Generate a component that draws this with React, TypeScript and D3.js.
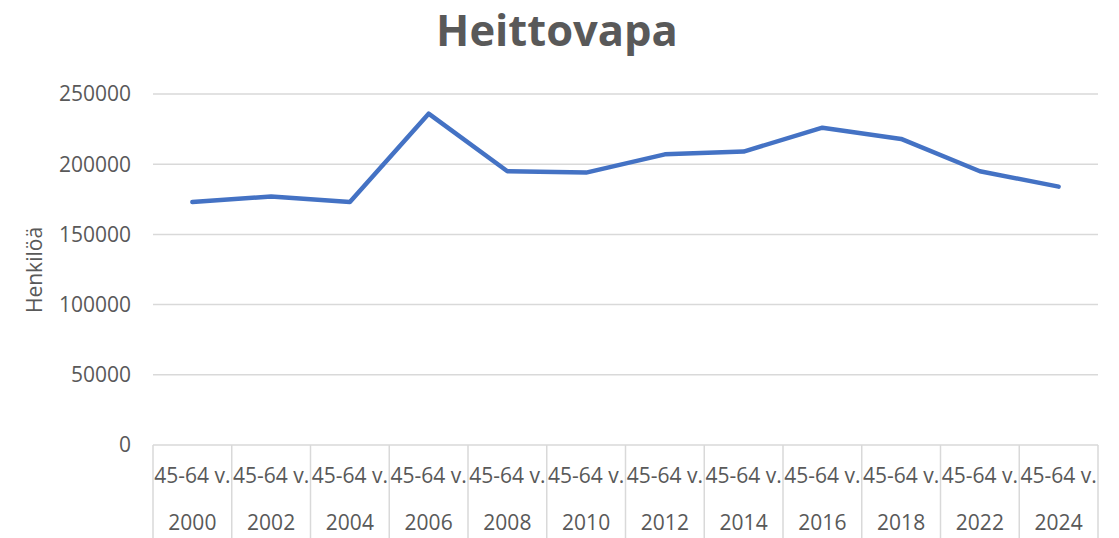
import React, { useEffect, useRef } from "react";
import * as d3 from "d3";

const years = ["2000", "2002", "2004", "2006", "2008", "2010", "2012", "2014", "2016", "2018", "2022", "2024"];
const ageGroup = "45-64 v.";
const values = [173000, 177000, 173000, 236000, 195000, 194000, 207000, 209000, 226000, 218000, 195000, 184000];
const yTicks = [0, 50000, 100000, 150000, 200000, 250000];

const App = () => {
  const ref = useRef<SVGSVGElement>(null);

  useEffect(() => {
    const svg = d3.select(ref.current);
    svg.selectAll("*").remove();

    const width = 1119;
    const height = 538;
    const margin = { top: 94, right: 21, bottom: 93, left: 153 };
    const font = "'Open Sans', sans-serif";
    const textColor = "#595959";
    const gridColor = "#d9d9d9";
    const fs = "21px";

    const x = d3
      .scaleBand()
      .domain(years)
      .range([margin.left, width - margin.right])
      .padding(0);

    const y = d3
      .scaleLinear()
      .domain([0, 250000])
      .range([height - margin.bottom, margin.top]);

    // gridlines
    svg
      .append("g")
      .selectAll("line")
      .data(yTicks)
      .enter()
      .append("line")
      .attr("x1", margin.left)
      .attr("x2", width - margin.right)
      .attr("y1", (d) => y(d))
      .attr("y2", (d) => y(d))
      .attr("stroke", gridColor)
      .attr("stroke-width", 1.5);

    // y tick labels
    svg
      .append("g")
      .selectAll("text")
      .data(yTicks)
      .enter()
      .append("text")
      .attr("x", 131)
      .attr("y", (d) => y(d))
      .attr("dy", "0.35em")
      .attr("text-anchor", "end")
      .attr("fill", textColor)
      .style("font-family", font)
      .style("font-size", fs)
      .text((d) => d);

    // category separators
    const bounds = years.map((d) => x(d) as number).concat([width - margin.right]);
    svg
      .append("g")
      .selectAll("line")
      .data(bounds)
      .enter()
      .append("line")
      .attr("x1", (d) => d)
      .attr("x2", (d) => d)
      .attr("y1", y(0))
      .attr("y2", height)
      .attr("stroke", gridColor)
      .attr("stroke-width", 1.5);

    // category labels
    const cats = svg.append("g");
    cats
      .selectAll("text.age")
      .data(years)
      .enter()
      .append("text")
      .attr("class", "age")
      .attr("x", (d) => (x(d) as number) + x.bandwidth() / 2)
      .attr("y", 483)
      .attr("text-anchor", "middle")
      .attr("fill", textColor)
      .style("font-family", font)
      .style("font-size", fs)
      .text(ageGroup);
    cats
      .selectAll("text.year")
      .data(years)
      .enter()
      .append("text")
      .attr("class", "year")
      .attr("x", (d) => (x(d) as number) + x.bandwidth() / 2)
      .attr("y", 530)
      .attr("text-anchor", "middle")
      .attr("fill", textColor)
      .style("font-family", font)
      .style("font-size", fs)
      .text((d) => d);

    // line
    const line = d3
      .line<number>()
      .x((d, i) => (x(years[i]) as number) + x.bandwidth() / 2)
      .y((d) => y(d));

    svg
      .append("path")
      .datum(values)
      .attr("d", line)
      .attr("fill", "none")
      .attr("stroke", "#4472C4")
      .attr("stroke-width", 4.5)
      .attr("stroke-linecap", "round")
      .attr("stroke-linejoin", "round");

    // title
    svg
      .append("text")
      .attr("x", 557)
      .attr("y", 46)
      .attr("text-anchor", "middle")
      .attr("fill", textColor)
      .style("font-family", font)
      .style("font-weight", "bold")
      .style("font-size", "43.5px")
      .text("Heittovapa");

    // y axis title
    svg
      .append("text")
      .attr("transform", `translate(42,270) rotate(-90)`)
      .attr("text-anchor", "middle")
      .attr("fill", textColor)
      .style("font-family", font)
      .style("font-size", fs)
      .text("Henkilöä");
  }, []);

  return <svg ref={ref} width={1119} height={538} style={{ position: "absolute", left: 0, top: 0 }}></svg>;
};

export default App;
